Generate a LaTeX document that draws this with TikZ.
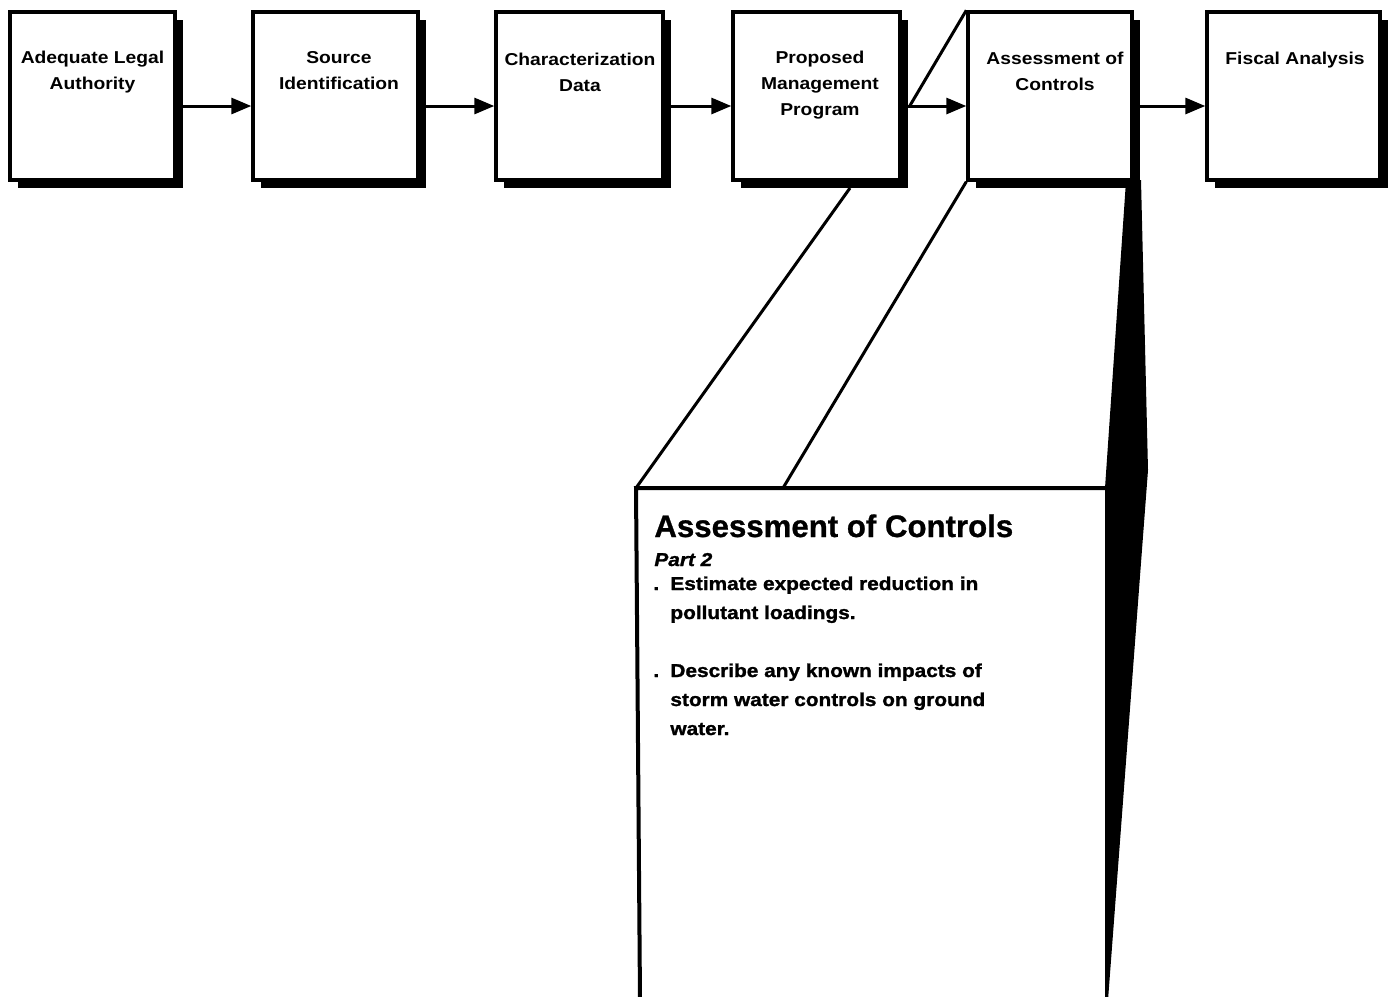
\documentclass[tikz,border=0pt]{standalone}
\usepackage{fontspec}
\setmainfont{Liberation Sans}
\newfontfamily\widesans[FakeStretch=1.12]{Liberation Sans}
\newfontfamily\heavysans[FakeStretch=1.12,FakeBold=1.4]{Liberation Sans}
\newfontfamily\titlesans[FakeBold=0.8]{Liberation Sans}
\usetikzlibrary{shadows,arrows.meta}

\begin{document}
\begin{tikzpicture}[x=0.5pt,y=-0.5pt,
  stepbox/.style={draw=black, line width=1.7pt, fill=white, minimum height=84pt, inner sep=0pt,
    drop shadow={shadow xshift=4pt, shadow yshift=-4pt, fill=black, opacity=1}},
  boxlabel/.style={anchor=north, align=center, inner sep=0pt,
    font=\widesans\bfseries\fontsize{8.6pt}{13pt}\selectfont},
  flow/.style={line width=1.5pt, -{Triangle[length=10pt,width=8pt]}},
  zoomline/.style={line width=1.5pt},
  panelline/.style={line width=2pt},
  paneltitle/.style={anchor=base west, inner sep=0pt, font=\titlesans\bfseries\fontsize{15.6pt}{18pt}\selectfont},
  panelsub/.style={anchor=base west, inner sep=0pt, font=\heavysans\bfseries\itshape\fontsize{9.3pt}{12pt}\selectfont},
  paneltext/.style={anchor=base west, inner sep=0pt, font=\heavysans\bfseries\fontsize{9.3pt}{12pt}\selectfont}]

\useasboundingbox (0,0) rectangle (1392,996);

% corners of the enlarged panel
\coordinate (pTL) at (636,488);
\coordinate (pMid) at (783,488);
\coordinate (pTR) at (1105,488);
\coordinate (pBL) at (640,1000);
\coordinate (z2) at (850,188);

% dark side face of the enlarged panel
\fill[black] (1126,181) -- (1141,180) -- (1148,470) -- (1108,1000) -- (1105,1000) -- (pTR) -- cycle;

% panel outline
\draw[panelline] (pBL) -- (pTL) -- (pTR);

% process boxes
\node[stepbox, minimum width=82.5pt] (b1) at (92.5,96) {};
\node[stepbox, minimum width=82.5pt] (b2) at (335.5,96) {};
\node[stepbox, minimum width=83.5pt] (b3) at (579.5,96) {};
\node[stepbox, minimum width=83.5pt] (b4) at (816.5,96) {};
\node[stepbox, minimum width=82pt]   (b5) at (1050,96) {};
\node[stepbox, minimum width=86.5pt] (b6) at (1293.5,96) {};

\node[boxlabel] (l1) at (92.5,45)  {\strut Adequate Legal\\Authority};
\node[boxlabel] (l2) at (339,45)   {\strut Source\\Identification};
\node[boxlabel] (l3) at (580,47)   {\strut Characterization\\Data};
\node[boxlabel] (l4) at (820,45)   {\strut Proposed\\Management\\Program};
\node[boxlabel] (l5) at (1055,46)  {\strut Assessment of\\Controls};
\node[boxlabel] (l6) at (1295,46)  {\strut Fiscal Analysis};

% flow arrows
\draw[flow] ([yshift=-5pt]b1.east) -- ([yshift=-5pt]b2.west);
\draw[flow] ([yshift=-5pt]b2.east) -- ([yshift=-5pt]b3.west);
\draw[flow] ([yshift=-5pt]b3.east) -- ([yshift=-5pt]b4.west);
\draw[flow] ([yshift=-5pt]b4.east) -- ([yshift=-5pt]b5.west);
\draw[flow] ([yshift=-5pt]b5.east) -- ([yshift=-5pt]b6.west);

% perspective lines of the enlargement
\draw[zoomline] ([xshift=4pt,yshift=-5pt]b4.east) -- (b5.north west);
\draw[zoomline] (z2) -- (pTL);
\draw[zoomline] (b5.south west) -- (pMid);

% panel text
\node[paneltitle] (pt) at (654,537) {Assessment of Controls};
\node[panelsub] (ps) at (654,566) {Part 2};
\node[paneltext] (e1) at (653,590) {\makebox[8.5pt][l]{.}Estimate expected reduction in};
\node[paneltext] (e2) at (670,619) {pollutant loadings.};
\node[paneltext] (d1) at (653,677) {\makebox[8.5pt][l]{.}Describe any known impacts of};
\node[paneltext] (d2) at (670,706) {storm water controls on ground};
\node[paneltext] (d3) at (670,735) {water.};

\end{tikzpicture}
\end{document}
